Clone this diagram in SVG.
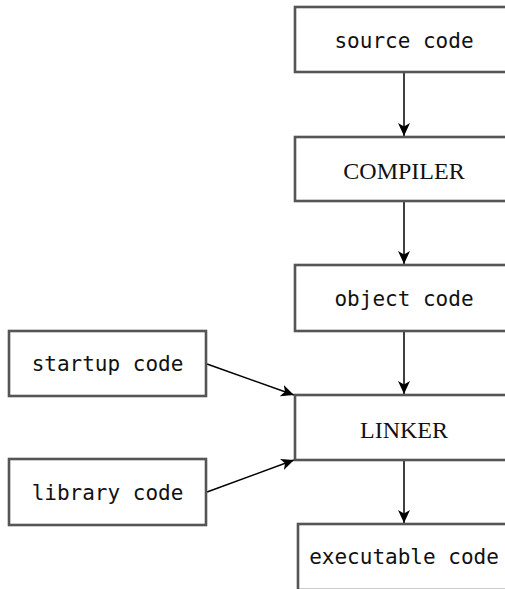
<svg xmlns="http://www.w3.org/2000/svg" width="505" height="589" viewBox="0 0 505 589">
<style>
.box{fill:#fff;stroke:#555;stroke-width:2.6}
.mono{font-family:"DejaVu Sans Mono","Liberation Mono",monospace;font-size:21px;fill:#111;text-anchor:middle}
.serif{font-family:"Liberation Serif","Times New Roman",serif;font-size:24px;fill:#111;text-anchor:middle}
.edge{stroke:#000;stroke-width:1.5;fill:none;marker-end:url(#ah)}
</style>
<defs>
<marker id="ah" markerWidth="14" markerHeight="14" refX="13" refY="7" orient="auto" markerUnits="userSpaceOnUse">
<path d="M0,1 L13,7 L0,13 L3.5,7 Z" fill="#000"/>
</marker>
</defs>
<rect width="505" height="589" fill="#fff"/>
<g id="connectors">
<line class="edge" x1="404" y1="72" x2="404" y2="136"/>
<line class="edge" x1="404" y1="201" x2="404" y2="264"/>
<line class="edge" x1="404" y1="331" x2="404" y2="394"/>
<line class="edge" x1="404" y1="460" x2="404" y2="523"/>
<line class="edge" x1="207" y1="364" x2="294" y2="395"/>
<line class="edge" x1="207" y1="492" x2="294" y2="460"/>
</g>
<g id="source"><rect class="box" x="295" y="7" width="218" height="65"/><text class="mono" x="404" y="48">source code</text></g>
<g id="compiler"><rect class="box" x="295" y="137" width="218" height="64"/><text class="serif" x="404" y="179">COMPILER</text></g>
<g id="object"><rect class="box" x="295" y="265" width="218" height="66"/><text class="mono" x="404" y="306">object code</text></g>
<g id="linker"><rect class="box" x="295" y="395" width="218" height="65"/><text class="serif" x="404" y="438">LINKER</text></g>
<g id="executable"><rect class="box" x="298" y="524" width="218" height="66"/><text class="mono" x="404" y="564">executable code</text></g>
<g id="startup"><rect class="box" x="9" y="331" width="197" height="65"/><text class="mono" x="107.5" y="371">startup code</text></g>
<g id="library"><rect class="box" x="9" y="459" width="197" height="66"/><text class="mono" x="107.5" y="500">library code</text></g>
</svg>
